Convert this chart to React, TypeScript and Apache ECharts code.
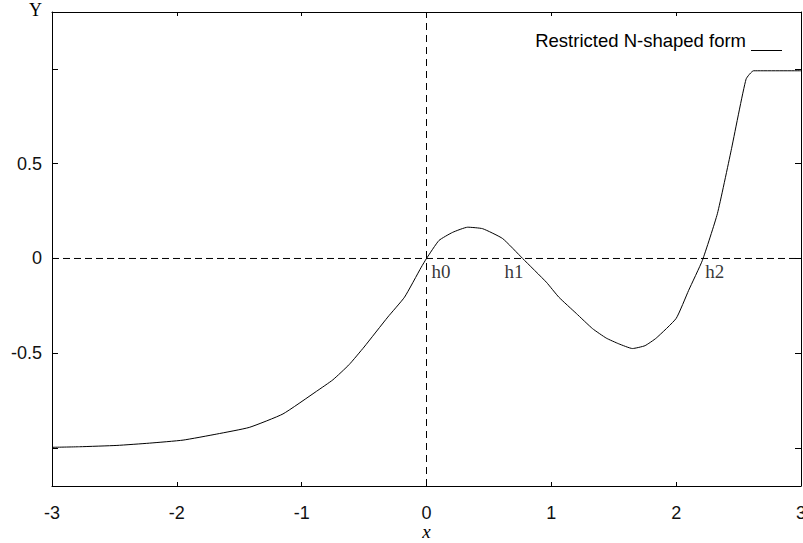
import React, { useEffect, useRef } from 'react';
import * as echarts from 'echarts';

// Restricted N-shaped form
const curveX = [-3, -2.78, -2.48, -2.22, -1.95, -1.68, -1.42, -1.15, -0.88, -0.75, -0.62, -0.5, -0.31, -0.176, -0.042, 0, 0.1, 0.21, 0.33, 0.45, 0.61, 0.77, 0.96, 1.06, 1.2, 1.33, 1.44, 1.54, 1.65, 1.75, 1.84, 2.0, 2.1, 2.21, 2.33, 2.44, 2.56, 2.62, 3];
const curveY = [-0.996, -0.993, -0.986, -0.974, -0.958, -0.926, -0.891, -0.82, -0.7, -0.64, -0.56, -0.467, -0.309, -0.204, -0.046, 0, 0.095, 0.138, 0.165, 0.157, 0.105, 0.0, -0.125, -0.204, -0.29, -0.37, -0.42, -0.45, -0.475, -0.46, -0.42, -0.316, -0.168, -0.01, 0.236, 0.568, 0.946, 0.99, 0.99];

const seriesName = 'Restricted N-shaped form';
const xMin = -3;
const xMax = 3;
const yMin = -1.2;
const yMax = 1.3;
const yTickValues = [-1, -0.5, 0, 0.5, 1];
const yLabelValues = [-0.5, 0, 0.5];
const rootLabels = ['h0', 'h1', 'h2'];
const rootLabelX = [0.04, 0.624, 2.232];
const rootLabelY = [-0.068, -0.068, -0.068];

const sans = 'Liberation Sans, Arial, sans-serif';
const serif = 'Liberation Serif, Times New Roman, serif';

export default function App() {
  const ref = useRef<HTMLDivElement>(null);
  useEffect(() => {
    if (!ref.current) return;
    const chart = echarts.init(ref.current, null, { renderer: 'svg' });
    const curve = curveX.map((x, i) => [x, curveY[i]]);
    const labels = rootLabels.map((n, i) => ({ name: n, value: [rootLabelX[i], rootLabelY[i]] }));
    const xAxisBase = {
      type: 'value',
      min: xMin,
      max: xMax,
      interval: 1,
      splitLine: { show: false },
      axisLine: { show: true, onZero: false, lineStyle: { color: '#000', width: 1 } },
      axisTick: { show: true, inside: true, length: 4, lineStyle: { color: '#000' } },
    };
    const yAxisBase = {
      type: 'value',
      min: yMin,
      max: yMax,
      splitLine: { show: false },
      axisLine: { show: true, onZero: false, lineStyle: { color: '#000', width: 1 } },
      axisTick: { show: true, inside: true, length: 6, customValues: yTickValues, lineStyle: { color: '#000' } },
    };
    chart.setOption({
      animation: false,
      backgroundColor: '#fff',
      grid: { left: 52, right: 2, top: 12, bottom: 57, containLabel: false, outerBoundsMode: 'none' },
      legend: {
        data: [seriesName],
        right: 16,
        top: 24,
        align: 'right',
        itemWidth: 31,
        itemHeight: 22,
        itemGap: 5,
        symbolKeepAspect: false,
        icon: 'path://M0,0 L0.1,0 L0.1,0.1 L0,0.1 Z M0,21 L31,21 L31,22 L0,22 Z',
        selectedMode: false,
        textStyle: { fontFamily: sans, fontSize: 18.5, color: '#000' },
      },
      xAxis: [
        {
          ...xAxisBase,
          position: 'bottom',
          name: 'x',
          nameLocation: 'middle',
          nameGap: 36,
          nameMoveOverlap: false,
          nameTextStyle: { fontFamily: serif, fontStyle: 'italic', fontSize: 19, color: '#000' },
          axisLabel: { show: true, margin: 18, fontFamily: sans, fontSize: 18, color: '#111' },
        },
        { ...xAxisBase, position: 'top', axisLabel: { show: false } },
      ],
      yAxis: [
        {
          ...yAxisBase,
          position: 'left',
          name: 'Y',
          nameLocation: 'end',
          nameGap: 2,
          nameTextStyle: { fontFamily: serif, fontSize: 18, color: '#000', align: 'right', verticalAlign: 'middle', padding: [0, 10, 0, 0] },
          axisLabel: {
            show: true,
            margin: 10,
            customValues: yLabelValues,
            fontFamily: sans,
            fontSize: 18,
            color: '#111',
            formatter: (v: number) => String(v),
          },
        },
        { ...yAxisBase, position: 'right', axisLabel: { show: false } },
      ],
      series: [
        {
          name: seriesName,
          type: 'line',
          data: curve,
          symbol: 'none',
          smooth: 0.15,
          lineStyle: { color: '#000', width: 1 },
          itemStyle: { color: '#000' },
          z: 3,
        },
        {
          name: 'zeroY',
          type: 'line',
          data: [[xMin, 0], [xMax, 0]],
          symbol: 'none',
          silent: true,
          lineStyle: { color: '#000', width: 1, type: [7, 4] },
          z: 2,
        },
        {
          name: 'zeroX',
          type: 'line',
          data: [[0, yMin], [0, yMax]],
          symbol: 'none',
          silent: true,
          lineStyle: { color: '#000', width: 1, type: [7, 5] },
          z: 2,
        },
        {
          name: 'roots',
          type: 'scatter',
          data: labels,
          symbolSize: 0,
          silent: true,
          label: {
            show: true,
            position: [0, 0],
            align: 'left',
            verticalAlign: 'middle',
            formatter: (p: any) => p.name,
            fontFamily: serif,
            fontSize: 19,
            color: '#000',
          },
          z: 4,
        },
      ],
    });
    return () => chart.dispose();
  }, []);
  return (
    <div
      ref={ref}
      style={{ position: 'absolute', left: 0, top: 0, width: 803, height: 543 }}
    />
  );
}
